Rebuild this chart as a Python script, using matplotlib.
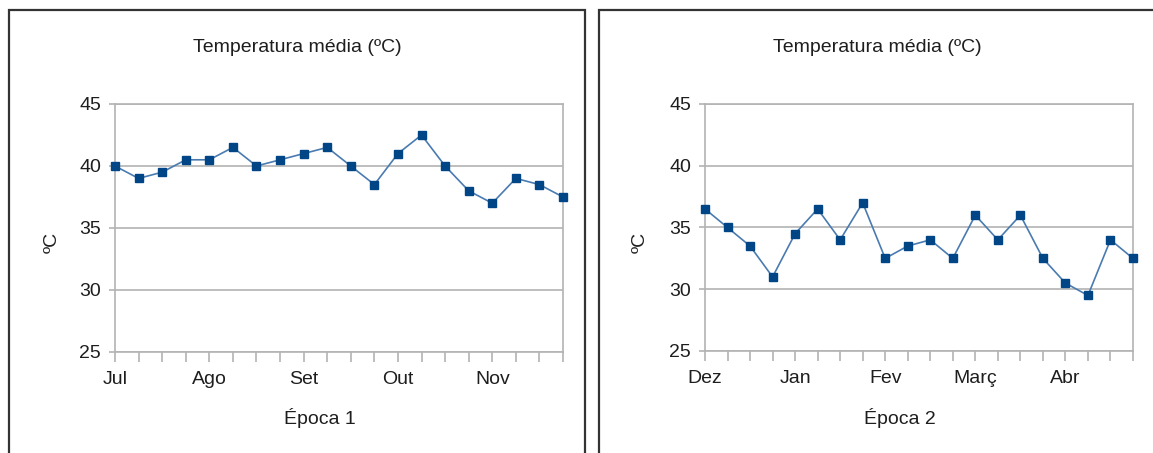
import matplotlib.pyplot as plt
from matplotlib.patches import Rectangle

W, H = 1153, 453

epoca1_labels = ["Jul", "Ago", "Set", "Out", "Nov"]
epoca1_temp = [40, 39, 39.5, 40.5, 40.5, 41.5, 40, 40.5, 41, 41.5,
               40, 38.5, 41, 42.5, 40, 38, 37, 39, 38.5, 37.5]

epoca2_labels = ["Dez", "Jan", "Fev", "Març", "Abr"]
epoca2_temp = [36.5, 35, 33.5, 31, 34.5, 36.5, 34, 37, 32.5, 33.5,
               34, 32.5, 36, 34, 36, 32.5, 30.5, 29.5, 34, 32.5]

yticks = [25, 30, 35, 40, 45]

plt.rcParams['font.family'] = ['Liberation Sans', 'DejaVu Sans']
txt = '#1e1e1e'
grey = '#b3b3b3'

fig = plt.figure(figsize=(W / 100, H / 100), dpi=100)

def px(x0, y0, x1, y1):
  return [x0 / W, 1 - y1 / H, (x1 - x0) / W, (y1 - y0) / H]

def panel(box, frame, temps, labels, xlabel, title_x, xlabel_x, ylab_x):
  # border of the panel
  fig.patches.append(Rectangle((frame[0] / W, -0.1), (frame[1] - frame[0]) / W, 1.1 - 10 / H,
                               transform=fig.transFigure, fill=False, edgecolor='#333333', lw=1.6))
  ax = fig.add_axes(px(*box))
  x = list(range(len(temps)))
  ax.plot(x, temps, color='#4a7bb0', lw=1.2, marker='s', markersize=5.5,
          markerfacecolor='#004586', markeredgecolor='#004586', clip_on=False, zorder=3)
  ax.set_xlim(0, len(temps) - 1)
  ax.set_ylim(25, 45)
  ax.set_yticks(yticks)
  ax.set_xticks(x)
  ax.set_xticklabels([labels[i // 4] if i % 4 == 0 else '' for i in x])
  ax.grid(axis='y', color=grey, lw=1.2)
  for s in ax.spines.values():
    s.set_color(grey)
    s.set_linewidth(1.2)
  ax.tick_params(axis='x', length=7, width=1.2, color=grey, pad=7, labelsize=14, labelcolor=txt)
  ax.tick_params(axis='y', length=4, width=1.2, color=grey, pad=6, labelsize=14, labelcolor=txt)
  fig.text(title_x / W, 1 - 47 / H, "Temperatura média (ºC)", ha='center', va='center',
           fontsize=14, color=txt)
  fig.text(xlabel_x / W, 1 - 418 / H, xlabel, ha='center', va='center', fontsize=14, color=txt)
  fig.text(ylab_x / W, 1 - 242 / H, "ºC", ha='center', va='center', rotation=90,
           fontsize=14, color=txt)

panel((115, 104, 563, 352), (9, 585), epoca1_temp, epoca1_labels, "Época 1", 297, 320, 52)
panel((705, 104, 1133, 351), (599, 1170), epoca2_temp, epoca2_labels, "Época 2", 877, 900, 640)

fig.savefig("out.png", dpi=100)
